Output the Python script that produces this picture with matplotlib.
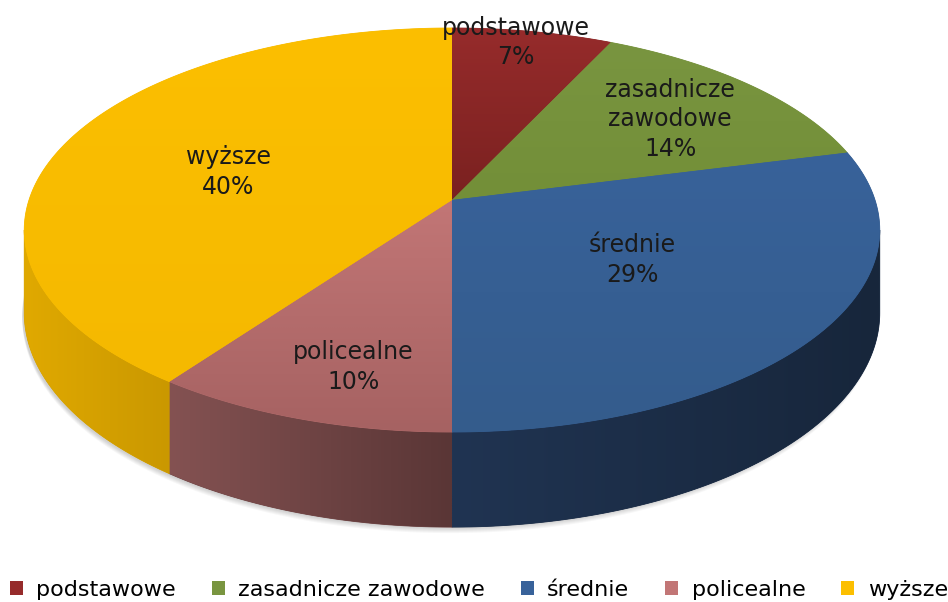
import matplotlib
matplotlib.use("Agg")
import matplotlib.pyplot as plt
import numpy as np
from matplotlib.patches import Polygon, Patch
from matplotlib.colors import to_rgb


# dane
categories = ["podstawowe", "zasadnicze\nzawodowe", "średnie", "policealne", "wyższe"]
legend_labels = ["podstawowe", "zasadnicze zawodowe", "średnie", "policealne", "wyższe"]
shares = [7, 14, 29, 10, 40]

# kolory (góra / bok)
top_light = ["#962B2B", "#799540", "#38629A", "#C27676", "#FCBF00"]
top_dark = ["#7A2120", "#738F38", "#345C8C", "#A66262", "#F5B900"]
side_left = ["#6E1E1C", "#5A7030", "#203452", "#845252", "#E0A900"]
side_right = ["#5A1816", "#4A5E28", "#17263B", "#5A3636", "#CA9800"]

# rozmieszczenie etykiet (ułamek promienia, korekta kąta w stopniach)
label_r = [0.92, 0.70, 0.50, 0.78, 0.56]
label_dt = [1.9, -1.3, 2.3, 2.6, 3.0]

# geometria rzutu perspektywicznego (piksele)
CX, S = 452, 423
A, B, C = -167.84, 200.0, 0.1485
DEPTH = 81.0


def project(t_deg, r=1.0, depth=0.0):
    t = np.radians(t_deg)
    u = r * np.cos(t)
    v = r * np.sin(t)
    den = 1 + C * v
    x = CX + S * u / den
    y = (A * v + B) / den + depth / den
    return x, y


def gradient_fill(ax, verts, c1, c2, horizontal=False, z=1):
    c1 = np.array(to_rgb(c1))
    c2 = np.array(to_rgb(c2))
    base = Polygon(verts, closed=True, facecolor=(c1 + c2) / 2,
                   edgecolor=(c1 + c2) / 2, lw=0.6, zorder=z)
    ax.add_patch(base)
    n = 256
    f = np.linspace(0, 1, n)[:, None]
    grad = c1[None, :] * (1 - f) + c2[None, :] * f
    if horizontal:
        img = grad[None, :, :]
    else:
        img = grad[:, None, :]
    xmin, ymin = verts.min(axis=0)
    xmax, ymax = verts.max(axis=0)
    im = ax.imshow(img, extent=(xmin, xmax, ymax, ymin), origin="upper",
                   aspect="auto", interpolation="bilinear", zorder=z + 0.1)
    im.set_clip_path(base)


fig = plt.figure(figsize=(9.48, 6.02), dpi=100)
ax = fig.add_axes([0, 0, 1, 1])

total = sum(shares)
cum = np.concatenate([[0], np.cumsum(shares)]) / total
t_start = 90 - 360 * cum[:-1]
t_end = 90 - 360 * cum[1:]

# cień pod wykresem
tt = np.linspace(0, 360, 400)
for k in range(6):
    sx, sy = project(tt, depth=DEPTH)
    ax.fill(sx - 2, sy + 1 + k, color="black", alpha=0.03, lw=0, zorder=0)

# boki (widoczna część: sin t > -C)
vis_lo = -180 + np.degrees(np.arcsin(C))
vis_hi = -np.degrees(np.arcsin(C))
for i in range(len(shares)):
    lo, hi = t_end[i], t_start[i]
    for off in (-360, 0, 360):
        a, b = max(lo, vis_lo + off), min(hi, vis_hi + off)
        if a >= b:
            continue
        ts = np.linspace(b, a, 120)
        xt, yt = project(ts)
        xb, yb = project(ts[::-1], depth=DEPTH)
        verts = np.column_stack([np.concatenate([xt, xb]),
                                 np.concatenate([yt, yb])])
        gradient_fill(ax, verts, side_left[i], side_right[i],
                      horizontal=True, z=2)

# wierzch
apex = np.array(project(0, r=0.0))
for i in range(len(shares)):
    ts = np.linspace(t_start[i], t_end[i], 200)
    xa, ya = project(ts)
    verts = np.vstack([apex, np.column_stack([xa, ya])])
    gradient_fill(ax, verts, top_light[i], top_dark[i], z=4)

# etykiety
for i, (name, val) in enumerate(zip(categories, shares)):
    mid = (t_start[i] + t_end[i]) / 2 + label_dt[i]
    lx, ly = project(mid, r=label_r[i])
    ax.text(lx, ly, f"{name}\n{val}%", ha="center", va="center",
            fontsize=17, color="#1A1A1A", linespacing=1.3, zorder=10)

ax.set_xlim(0, 948)
ax.set_ylim(602, 0)
ax.axis("off")

handles = [Patch(facecolor=top_light[i], edgecolor="none") for i in range(len(shares))]
fig.legend(handles, legend_labels, loc="center", ncol=5,
           bbox_to_anchor=(0.505, 0.02), frameon=False, fontsize=16,
           handlelength=0.6, handleheight=0.6, handletextpad=0.6,
           columnspacing=1.6, borderaxespad=0)

fig.savefig("out.png", dpi=100)
